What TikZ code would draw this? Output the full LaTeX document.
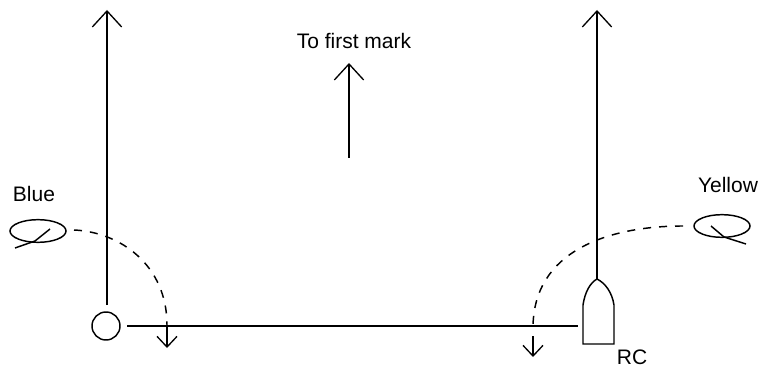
\documentclass[tikz,border=0pt]{standalone}
\usepackage{fontspec}
\setmainfont{Liberation Sans}
\usetikzlibrary{arrows.meta,shapes.geometric}
\begin{document}
\begin{tikzpicture}[x=.75pt,y=-.75pt,line width=1.1pt,font=\fontsize{15.75}{18}\selectfont,
  lbl/.style={inner sep=0pt},
  buoy/.style={draw,ellipse,inner sep=0pt,minimum width=42pt,minimum height=17pt},
  pin/.style={draw,circle,inner sep=0pt,minimum size=21pt},
  bigarrow/.style={-{Straight Barb[length=12pt,width=22pt,line width=1pt]}},
  droparrow/.style={-{Straight Barb[length=8pt,width=15pt,line width=1pt]}},
  course/.style={dash pattern=on 6pt off 6pt}]
  \useasboundingbox (0,0) rectangle (761,367);
  % labels
  \node[lbl] (first) at (354,41){To first mark};
  \node[lbl] (blue) at (34,194){Blue};
  \node[lbl] (yellow) at (728,185){Yellow};
  \node[lbl] (rc) at (632,357){RC};
  % start line marks
  \node[pin] (pinend) at (106,326){};
  \draw (583,344) -- (614,344) -- (614,305) .. controls (612,292) and (605,283) .. (597,279) coordinate (bow) .. controls (590,283) and (585,292) .. (583,305) -- cycle;
  \coordinate (ls) at (127,326);
  \coordinate (le) at (578,326);
  \draw (ls) -- (le);
  % laylines
  \coordinate (lt) at (107,10);
  \coordinate (lb) at (107,305);
  \coordinate (rt) at (597,10);
  \coordinate (ct) at (349,63);
  \coordinate (cb) at (349,158);
  \draw[bigarrow] (lb) -- (lt);
  \draw[bigarrow] (bow) -- (rt);
  \draw[bigarrow] (cb) -- (ct);
  % gates
  \node[buoy] (bgate) at (38,231){};
  \node[buoy] (ygate) at (722,226){};
  \draw (50,229) -- (35,241) -- (15,248);
  \draw (711,226) -- (724,237) -- (746,244);
  \coordinate (bs) at (74,230);
  \coordinate (be) at (167,325);
  \coordinate (bd) at (167,348);
  \coordinate (ys) at (683,226);
  \coordinate (ye) at (533,328);
  \coordinate (ya) at (533,336);
  \coordinate (yd) at (533,357);
  \draw[course] (bs) .. controls (120,232) and (167,265) .. (be);
  \draw[course] (ys) .. controls (610,226) and (533,250) .. (ye);
  \draw[droparrow] (be) -- (bd);
  \draw[droparrow] (ya) -- (yd);
\end{tikzpicture}
\end{document}
